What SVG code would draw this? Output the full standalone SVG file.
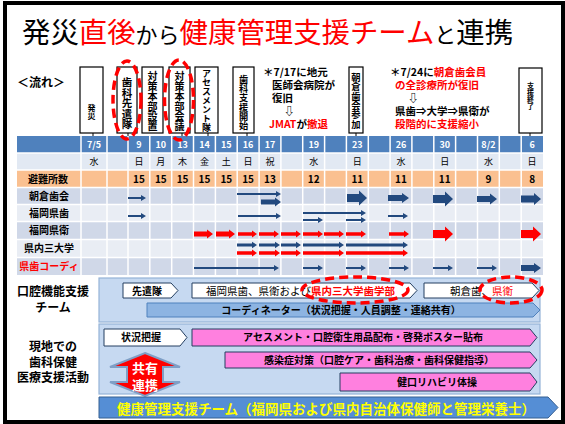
<svg xmlns="http://www.w3.org/2000/svg" width="565" height="424" viewBox="0 0 565 424">
<style>
text{font-family:"Noto Sans CJK JP","Noto Sans",sans-serif;}
.b{font-weight:700;}
.c{text-anchor:middle;}
.red{fill:#ff0000;}
.ab{fill:#22497e;}
.ar{fill:#ff0000;}
.vbox{fill:#fff;stroke:#000;stroke-width:1.2;}
.vt{writing-mode:vertical-rl;font-weight:700;}
.tick{stroke:#000;stroke-width:1;}
.ell{fill:none;stroke:#ff0000;stroke-width:3.5;stroke-dasharray:9 5;}
.grid{stroke:#fff;stroke-width:1.5;}
.hd{fill:#fff;font-weight:700;font-size:9px;text-anchor:middle;}
.dy{font-size:9px;text-anchor:middle;}
.on{font-size:10px;font-weight:700;text-anchor:middle;}
.rl{font-size:10px;font-weight:700;text-anchor:middle;}
.wp{fill:#fff;stroke:#243f60;stroke-width:1;}
.pk{fill:#ff80df;stroke:#243f60;stroke-width:1;}
.panel{fill:#c6d9f1;stroke:#95b3d7;stroke-width:1.2;}
.note{font-size:10.5px;font-weight:700;}
.lab{font-size:12px;font-weight:700;text-anchor:middle;}
</style>

<rect x="0" y="0" width="565" height="424" fill="#fff"/>
<rect x="5" y="3" width="558" height="419" fill="#fff" stroke="#000" stroke-width="4"/>

<g id="title">
<text x="22" y="43" font-size="28.4">発災<tspan class="red">直後</tspan><tspan font-size="22">から</tspan><tspan class="red">健康管理支援チーム</tspan><tspan font-size="22">と</tspan>連携</text>
</g>

<g id="flow-label"><text x="17" y="87" font-size="12" class="b">＜流れ＞</text></g>

<g id="event-hassai"><rect class="vbox" x="80" y="67" width="23" height="66"/><text class="vt" x="91.5" y="104" font-size="8">発災</text></g>
<g id="event-senkentai"><rect class="vbox" x="117" y="67" width="20" height="66"/><text class="vt" x="127" y="77" font-size="10.5">歯科先遣隊</text></g>
<g id="event-honbu-setchi"><rect class="vbox" x="142" y="67" width="21" height="66"/><text class="vt" x="152.5" y="71.5" font-size="10">対策本部設置</text></g>
<g id="event-honbu-kaigi"><rect class="vbox" x="169" y="67" width="21" height="66"/><text class="vt" x="179.5" y="71.5" font-size="10">対策本部会議</text></g>
<g id="event-assessment"><rect class="vbox" x="195" y="67" width="23" height="66"/><text class="vt" x="206.5" y="69" font-size="9">アセスメント隊</text></g>
<g id="event-shien-kaishi"><rect class="vbox" x="233" y="67" width="21" height="66"/><text class="vt" x="243.5" y="75" font-size="9.2">歯科支援開始</text></g>
<g id="event-asakura"><rect class="vbox" x="349" y="67" width="14" height="66"/><text class="vt" x="356" y="73" font-size="9.3">朝倉歯会参加</text></g>
<g id="event-shuryo"><rect class="vbox" x="519" y="68" width="23" height="65"/><text class="vt" x="530.5" y="82" font-size="7">支援終了</text></g>

<g id="ticks">
<line class="tick" x1="93" y1="133" x2="93" y2="137"/>
<line class="tick" x1="128" y1="133" x2="128" y2="137"/>
<line class="tick" x1="182" y1="133" x2="182" y2="137"/>
<line class="tick" x1="208" y1="133" x2="208" y2="137"/>
<line class="tick" x1="247" y1="133" x2="247" y2="137"/>
<line class="tick" x1="356" y1="133" x2="356" y2="137"/>
<line class="tick" x1="530" y1="133" x2="530" y2="137"/>
</g>

<g id="note-0717">
<text class="note" x="263" y="76">＊7/17に地元</text>
<text class="note" x="272" y="89">医師会病院が</text>
<text class="note" x="272" y="102">復旧</text>
<text class="note" x="284" y="115">⇩</text>
<text class="note" x="269" y="128"><tspan class="red">JMAT</tspan>が<tspan class="red">撤退</tspan></text>
</g>

<g id="note-0724">
<text class="note" x="390" y="76">＊7/24に<tspan class="red">朝倉歯会員</tspan></text>
<text class="note red" x="395" y="89">の全診療所が復旧</text>
<text class="note" x="408" y="102">⇩</text>
<text class="note" x="395" y="115">県歯⇒大学⇒県衛が</text>
<text class="note red" x="395" y="128">段階的に支援縮小</text>
</g>

<g id="table">
<rect x="17" y="136" width="526" height="17" fill="#4f81bd"/>
<rect x="17" y="153" width="526" height="17" fill="#e2e9f3"/>
<rect x="17" y="170" width="526" height="17.5" fill="#fac090"/>
<rect x="17" y="187.5" width="526" height="17" fill="#d0d8e8"/>
<rect x="17" y="204.5" width="526" height="17" fill="#e9edf4"/>
<rect x="17" y="221.5" width="526" height="18" fill="#d0d8e8"/>
<rect x="17" y="239.5" width="526" height="18" fill="#e9edf4"/>
<rect x="17" y="257.5" width="526" height="17.5" fill="#d0d8e8"/>
<g class="grid">
<line x1="81" y1="136" x2="81" y2="275"/><line x1="107" y1="136" x2="107" y2="275"/>
<line x1="128" y1="136" x2="128" y2="275"/><line x1="149.8" y1="136" x2="149.8" y2="275"/>
<line x1="171.7" y1="136" x2="171.7" y2="275"/><line x1="193.5" y1="136" x2="193.5" y2="275"/>
<line x1="215.4" y1="136" x2="215.4" y2="275"/><line x1="237.2" y1="136" x2="237.2" y2="275"/>
<line x1="259.1" y1="136" x2="259.1" y2="275"/><line x1="280.9" y1="136" x2="280.9" y2="275"/>
<line x1="302.7" y1="136" x2="302.7" y2="275"/><line x1="324.6" y1="136" x2="324.6" y2="275"/>
<line x1="346.4" y1="136" x2="346.4" y2="275"/><line x1="368.3" y1="136" x2="368.3" y2="275"/>
<line x1="390.1" y1="136" x2="390.1" y2="275"/><line x1="411.9" y1="136" x2="411.9" y2="275"/>
<line x1="433.8" y1="136" x2="433.8" y2="275"/><line x1="455.6" y1="136" x2="455.6" y2="275"/>
<line x1="477.5" y1="136" x2="477.5" y2="275"/><line x1="499.3" y1="136" x2="499.3" y2="275"/>
<line x1="521.2" y1="136" x2="521.2" y2="275"/>
<line x1="17" y1="153" x2="543" y2="153"/><line x1="17" y1="170" x2="543" y2="170"/>
<line x1="17" y1="187.5" x2="543" y2="187.5"/><line x1="17" y1="204.5" x2="543" y2="204.5"/>
<line x1="17" y1="221.5" x2="543" y2="221.5"/><line x1="17" y1="239.5" x2="543" y2="239.5"/>
<line x1="17" y1="257.5" x2="543" y2="257.5"/>
</g>
<g id="hdr">
<text class="hd" x="94" y="148">7/5</text><text class="hd" x="138.9" y="148">9</text><text class="hd" x="160.8" y="148">10</text>
<text class="hd" x="182.6" y="148">13</text><text class="hd" x="204.5" y="148">14</text><text class="hd" x="226.3" y="148">15</text>
<text class="hd" x="248.1" y="148">16</text><text class="hd" x="270" y="148">17</text><text class="hd" x="313.7" y="148">19</text>
<text class="hd" x="357.3" y="148">23</text><text class="hd" x="401" y="148">26</text><text class="hd" x="444.7" y="148">30</text>
<text class="hd" x="488.4" y="148">8/2</text><text class="hd" x="532.1" y="148">6</text>
</g>
<g id="days">
<text class="dy" x="94" y="165">水</text><text class="dy" x="138.9" y="165">日</text><text class="dy" x="160.8" y="165">月</text>
<text class="dy" x="182.6" y="165">木</text><text class="dy" x="204.5" y="165">金</text><text class="dy" x="226.3" y="165">土</text>
<text class="dy" x="248.1" y="165">日</text><text class="dy" x="270" y="165">祝</text><text class="dy" x="313.7" y="165">水</text>
<text class="dy" x="357.3" y="165">日</text><text class="dy" x="401" y="165">水</text><text class="dy" x="444.7" y="165">日</text>
<text class="dy" x="488.4" y="165">水</text><text class="dy" x="532.1" y="165">日</text>
</g>
<g id="shelters">
<text class="rl" x="48" y="182.5">避難所数</text>
<text class="on" x="138.9" y="182.5">15</text><text class="on" x="160.8" y="182.5">15</text><text class="on" x="182.6" y="182.5">15</text>
<text class="on" x="204.5" y="182.5">15</text><text class="on" x="226.3" y="182.5">15</text><text class="on" x="248.1" y="182.5">15</text>
<text class="on" x="270" y="182.5">13</text><text class="on" x="313.7" y="182.5">12</text><text class="on" x="357.3" y="182.5">11</text>
<text class="on" x="401" y="182.5">11</text><text class="on" x="444.7" y="182.5">11</text><text class="on" x="488.4" y="182.5">9</text>
<text class="on" x="532.1" y="182.5">8</text>
</g>
<g id="row-labels">
<text class="rl" x="49" y="199.5">朝倉歯会</text>
<text class="rl" x="49" y="216.5">福岡県歯</text>
<text class="rl" x="49" y="234">福岡県衛</text>
<text class="rl" x="49" y="252">県内三大学</text>
<text class="rl red" x="49" y="270">県歯コーディ</text>
</g>
</g>

<g id="connectors">
<path class="ab" d="M128 196.9H141V195L146 198L141 201V199.1H128Z"/>
<path class="ab" d="M237 192.9H276V191L281 194L276 197V195.1H237Z"/>
<path class="ab" d="M261 199.5H275V197.5L281 202L275 206.5V204.5H261Z"/>
<path class="ab" d="M347 194H359V190.5L367 198L359 205.5V202H347Z"/>
<path class="ab" d="M388 195H402V193L409 198L402 203V201H388Z"/>
<path class="ab" d="M433 195H445V191.5L453 199L445 206.5V203H433Z"/>
<path class="ab" d="M477 196H490V193.5L497 199L490 204.5V202H477Z"/>
<path class="ab" d="M521 195.5H534V193L541 199L534 205V202.5H521Z"/>
<path class="ab" d="M128 214.9H141V213L146 216L141 219V217.1H128Z"/>
<path class="ab" d="M238 214.9H276V213L281 216L276 219V217.1H238Z"/>
<path class="ab" d="M303 211.9H361V210L366 213L361 216V214.1H303Z"/>
<path class="ab" d="M303 218.9H318V217L323 220L318 223V221.1H303Z"/>
<path class="ab" d="M346 218.9H361V217L366 220L361 223V221.1H346Z"/>
<path class="ab" d="M388 214.9H403V213L408 216L403 219V217.1H388Z"/>
<path class="ar" d="M194 231.5H207V229.5L213 234L207 238.5V236.5H194Z"/>
<path class="ar" d="M216 231.5H229V229.5L235 234L229 238.5V236.5H216Z"/>
<path class="ar" d="M238 232.2H252V230.5L257 234L252 237.5V235.8H238Z"/>
<path class="ar" d="M259 232.2H274V230.5L279 234L274 237.5V235.8H259Z"/>
<path class="ar" d="M281 232.2H296V230.5L301 234L296 237.5V235.8H281Z"/>
<path class="ar" d="M303 232.2H318V230.5L323 234L318 237.5V235.8H303Z"/>
<path class="ar" d="M324 232.2H339V230.5L344 234L339 237.5V235.8H324Z"/>
<path class="ar" d="M346 232.2H361V230.5L366 234L361 237.5V235.8H346Z"/>
<path class="ar" d="M389 232.2H404V230.5L409 234L404 237.5V235.8H389Z"/>
<path class="ar" d="M433 230H445V226.5L453 234L445 241.5V238H433Z"/>
<path class="ar" d="M521 230H533V226.5L541 234L533 241.5V238H521Z"/>
<path class="ab" d="M237 243.4H252V241.7L257 245L252 248.3V246.6H237Z"/>
<path class="ab" d="M259 243.4H275V241.7L280 245L275 248.3V246.6H259Z"/>
<path class="ab" d="M281 243.4H296V241.7L301 245L296 248.3V246.6H281Z"/>
<path class="ab" d="M303 243.4H339V241.7L344 245L339 248.3V246.6H303Z"/>
<path class="ab" d="M346 243.4H403V241.7L408 245L403 248.3V246.6H346Z"/>
<path class="ar" d="M237 251.2H252V249.5L257 253L252 256.5V254.8H237Z"/>
<path class="ar" d="M259 251.2H275V249.5L280 253L275 256.5V254.8H259Z"/>
<path class="ar" d="M281 251.2H296V249.5L301 253L296 256.5V254.8H281Z"/>
<path class="ar" d="M303 251.2H339V249.5L344 253L339 256.5V254.8H303Z"/>
<path class="ar" d="M346 251.2H403V249.5L408 253L403 256.5V254.8H346Z"/>
<path class="ab" d="M194 266.9H274V265L279 268L274 271V269.1H194Z"/>
<path class="ab" d="M303 266.9H318V265L323 268L318 271V269.1H303Z"/>
<path class="ab" d="M346 266.9H361V265L366 268L361 271V269.1H346Z"/>
<path class="ab" d="M389 266.9H404V265L409 268L404 271V269.1H389Z"/>
<path class="ab" d="M433 266.9H448V265L453 268L448 271V269.1H433Z"/>
<path class="ab" d="M477 266.9H492V265L497 268L492 271V269.1H477Z"/>
<path class="ab" d="M521 265H534V263L541 268L534 273V271H521Z"/>
</g>

<g id="ellipses-top">
<ellipse class="ell" cx="127" cy="100" rx="14" ry="39"/>
<ellipse class="ell" cx="179" cy="100" rx="14.5" ry="40"/>
</g>

<g id="oral-team">
<text class="lab" x="53" y="296">口腔機能支援</text>
<text class="lab" x="53" y="311.5">チーム</text>
<rect class="panel" x="99" y="278" width="441" height="44"/>
<g id="senkentai"><path class="wp" d="M123 283H171L178 290.5L171 298H123Z"/><text class="b c" x="147" y="294.5" font-size="10">先遣隊</text></g>
<g id="kenshi"><path class="wp" d="M192 283H410L417 290.5L410 298H192Z"/><text x="206" y="294.5" font-size="10.5">福岡県歯、県衛および<tspan class="red b">県内三大学歯学部</tspan></text></g>
<g id="asakura"><path class="wp" d="M424 283H532L539 290.5L532 298H424Z"/><text x="450" y="294.5" font-size="10.5">朝倉歯、<tspan class="red">県衛</tspan></text></g>
<g id="coordinator"><path d="M147 303H533L540 310L533 317H147Z" fill="#8db4e2" stroke="#4f81bd" stroke-width="1"/><text class="b c" x="341" y="313.8" font-size="10">コーディネーター（状況把握・人員調整・連絡共有）</text></g>
<ellipse class="ell" cx="355" cy="290" rx="53" ry="13"/>
<ellipse class="ell" cx="511" cy="290" rx="31" ry="13"/>
</g>

<g id="local-activity">
<text class="lab" x="53" y="351">現地での</text>
<text class="lab" x="53" y="366.5">歯科保健</text>
<text class="lab" x="53" y="382">医療支援活動</text>
<rect class="panel" x="99" y="324" width="441" height="70"/>
<g id="jokyo"><path class="wp" d="M104 329H180L187 337.5L180 346H104Z"/><text class="b c" x="141" y="341" font-size="10">状況把握</text></g>
<g id="assess"><path class="pk" d="M192 329H530L537 337.5L530 346H192Z"/><text class="b c" x="363" y="341" font-size="10">アセスメント・口腔衛生用品配布・啓発ポスター貼布</text></g>
<g id="infection"><path class="pk" d="M225 352H530L537 360L530 368H225Z"/><text class="b c" x="379" y="363.5" font-size="10">感染症対策（口腔ケア・歯科治療・歯科保健指導）</text></g>
<g id="rehab"><path class="pk" d="M340 373H530L537 382L530 391H340Z"/><text class="b c" x="437" y="385.5" font-size="10">健口リハビリ体操</text></g>
<g id="share"><path d="M145 353L180 367H163V382H180L145 396L110 382H127V367H110Z" fill="#ff0000" stroke="#7f9fc6" stroke-width="2"/>
<text class="b c" x="145" y="373" font-size="13" fill="#fff">共有</text>
<text class="b c" x="145" y="389.5" font-size="13" fill="#fff">連携</text></g>
</g>

<g id="health-team"><path d="M99 397H548L558 407.5L548 418H99Z" fill="#558ed5" stroke="#376092" stroke-width="1"/>
<text class="b c" x="326" y="413.5" font-size="13.5" fill="#ffff00">健康管理支援チーム（福岡県および県内自治体保健師と管理栄養士）</text></g>
</svg>
